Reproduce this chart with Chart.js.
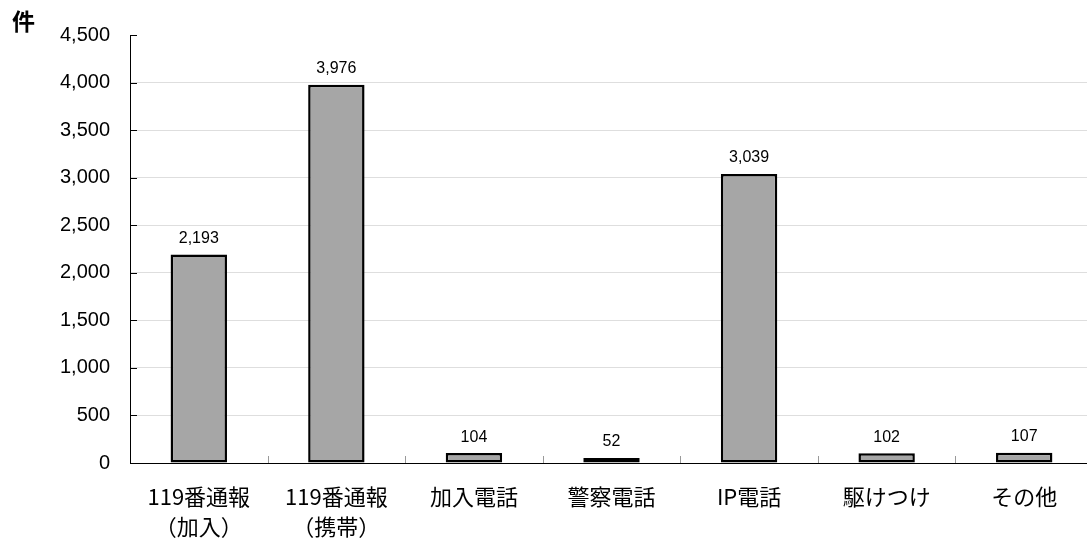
<!DOCTYPE html>
<html>
<head>
<meta charset="utf-8">
<script src="https://cdn.jsdelivr.net/npm/chart.js@4"></script>
<style>
  html, body { margin: 0; padding: 0; background: #fff; overflow: hidden; }
  #wrap { width: 1100px; height: 538px; }
</style>
</head>
<body>
<div id="wrap"><canvas id="myChart" width="1100" height="538"></canvas></div>
<script>
var categories = [
  ["119番通報", "（加入）"],
  ["119番通報", "（携帯）"],
  "加入電話",
  "警察電話",
  "IP電話",
  "駆けつけ",
  "その他"
];
var counts = [2193, 3976, 104, 52, 3039, 102, 107];
var yTicks = [0, 500, 1000, 1500, 2000, 2500, 3000, 3500, 4000, 4500];

var cjk = "'Noto Sans CJK JP', 'Noto Sans', sans-serif";

// value labels above the bars, unit label and small axis ticks
var extras = {
  id: "extras",
  afterDatasetsDraw: function (chart) {
    var ctx = chart.ctx;
    var meta = chart.getDatasetMeta(0);
    var area = chart.chartArea;
    ctx.save();
    ctx.fillStyle = "#000";
    ctx.font = "16px 'Liberation Sans', Arial, sans-serif";
    ctx.textAlign = "center";
    ctx.textBaseline = "bottom";
    meta.data.forEach(function (bar, i) {
      ctx.fillText(counts[i].toLocaleString("en-US"), bar.x, bar.y - 8);
    });

    // small ticks between categories
    var x = chart.scales.x;
    ctx.strokeStyle = "#999";
    ctx.lineWidth = 1;
    for (var i = 1; i < categories.length; i++) {
      var px = Math.round((x.getPixelForValue(i - 1) + x.getPixelForValue(i)) / 2) + 0.5;
      ctx.beginPath();
      ctx.moveTo(px, area.bottom);
      ctx.lineTo(px, area.bottom - 7);
      ctx.stroke();
    }

    // y ticks pointing inward
    var y = chart.scales.y;
    ctx.strokeStyle = "#000";
    yTicks.forEach(function (v) {
      var py = Math.round(y.getPixelForValue(v)) + 0.5;
      ctx.beginPath();
      ctx.moveTo(area.left, py);
      ctx.lineTo(area.left + 7, py);
      ctx.stroke();
    });

    // unit
    ctx.font = "bold 23px " + cjk;
    ctx.textAlign = "left";
    ctx.textBaseline = "middle";
    ctx.fillText("件", 12, 21);
    ctx.restore();
  }
};

var ctx = document.getElementById("myChart").getContext("2d");
var myChart = new Chart(ctx, {
  type: "bar",
  data: {
    labels: categories,
    datasets: [
      {
        data: counts,
        backgroundColor: "#a6a6a6",
        borderColor: "#000",
        borderWidth: 2.5,
        borderSkipped: false,
        categoryPercentage: 1,
        barPercentage: 0.41
      }
    ]
  },
  options: {
    responsive: false,
    animation: false,
    layout: { padding: { top: 35, right: 7, left: 0, bottom: 0 } },
    plugins: {
      legend: { display: false },
      tooltip: { enabled: false }
    },
    scales: {
      x: {
        grid: { display: false },
        border: { color: "#000", width: 1 },
        ticks: {
          color: "#000",
          font: { family: cjk, size: 22, lineHeight: 1.36 },
          padding: 11,
          maxRotation: 0,
          autoSkip: false
        },
        afterFit: function (scale) { scale.height = 75; }
      },
      y: {
        min: 0,
        max: 4500,
        afterBuildTicks: function (scale) {
          scale.ticks = yTicks.map(function (v) { return { value: v }; });
        },
        grid: {
          drawTicks: false,
          color: function (c) {
            return c.tick && c.tick.value === 4500 ? "rgba(0,0,0,0)" : "#dedede";
          }
        },
        border: { color: "#000", width: 1 },
        ticks: {
          color: "#000",
          font: { family: "'Liberation Sans', Arial, sans-serif", size: 20 },
          padding: 20,
          callback: function (v) { return v.toLocaleString("en-US"); }
        },
        afterFit: function (scale) { scale.width = 130; }
      }
    }
  },
  plugins: [extras]
});
</script>
</body>
</html>
